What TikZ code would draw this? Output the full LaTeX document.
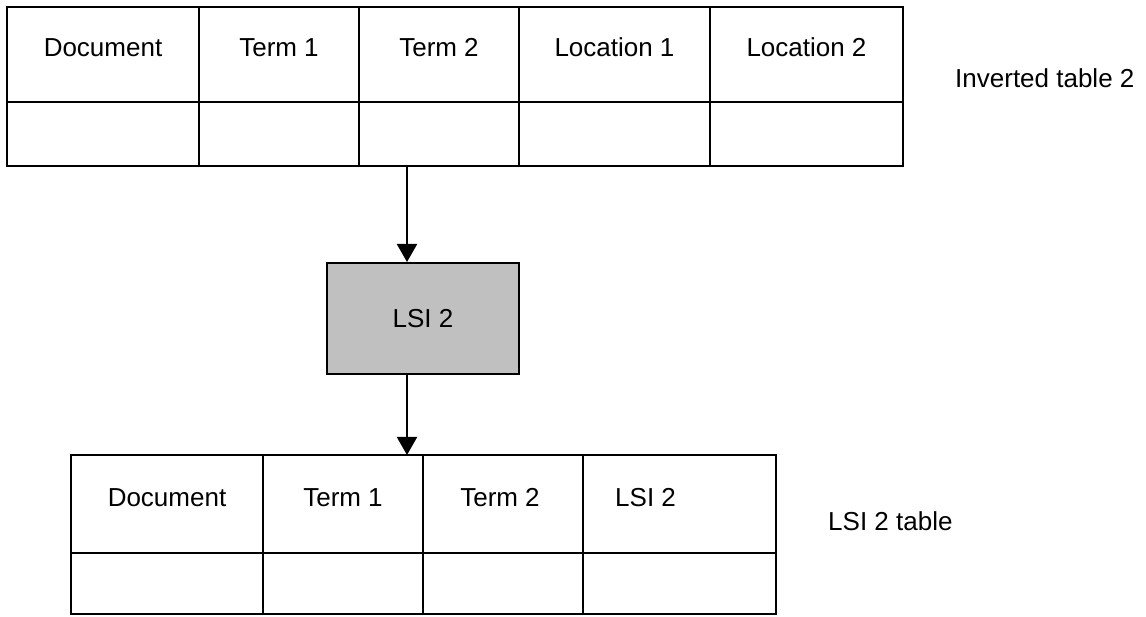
\documentclass[tikz,border=0pt]{standalone}
\usepackage{fontspec}
\setmainfont{Liberation Sans}
\usepackage{xcolor}
\usetikzlibrary{arrows.meta, positioning}
\definecolor{lsigray}{RGB}{192,192,192}

\begin{document}
\begin{tikzpicture}[x=1pt, y=1pt, font=\fontsize{26}{31}\selectfont,
  grid/.style={line width=2pt},
  head/.style={anchor=base, inner sep=0pt},
  tname/.style={anchor=base west, inner sep=0pt},
  lsibox/.style={draw, line width=2pt, fill=lsigray, minimum width=192pt, minimum height=111pt, inner sep=0pt},
  flow/.style={line width=2pt, -{Triangle[width=20pt, length=18pt]}}]
\useasboundingbox (0,0) rectangle (1146,616);
\draw [grid] (7,450) rectangle (903,609);
\draw [grid] (7,514) -- (903,514);
\draw [grid] (199,450) -- (199,609);
\draw [grid] (359,450) -- (359,609);
\draw [grid] (519,450) -- (519,609);
\draw [grid] (710,450) -- (710,609);
\node [head] (invdoc) at (103,559) {Document};
\node [head] (invterma) at (279,559) {Term 1};
\node [head] (invtermb) at (439,559) {Term 2};
\node [head] (invloca) at (614.5,559) {Location 1};
\node [head] (invlocb) at (806.5,559) {Location 2};
\node [tname] (invname) at (955,528) {Inverted table 2};
\coordinate (inv) at (407,450);
\node [lsibox] (lsi) at (423,297.5) {LSI 2};
\draw [grid] (71,2) rectangle (776,161);
\draw [grid] (71,63) -- (776,63);
\draw [grid] (263,2) -- (263,161);
\draw [grid] (423,2) -- (423,161);
\draw [grid] (583,2) -- (583,161);
\node [head] (lsidoc) at (167,109) {Document};
\node [head] (lsiterma) at (343,109) {Term 1};
\node [head] (lsitermb) at (500,109) {Term 2};
\node [tname] (lsicol) at (615,109) {LSI 2};
\node [tname] (lsiname) at (828,85) {LSI 2 table};
\coordinate (lsitab) at (407,161);
\draw [flow] (inv) -- (inv |- lsi.north);
\draw [flow] (lsi.south -| inv) -- (lsitab);
\end{tikzpicture}
\end{document}
